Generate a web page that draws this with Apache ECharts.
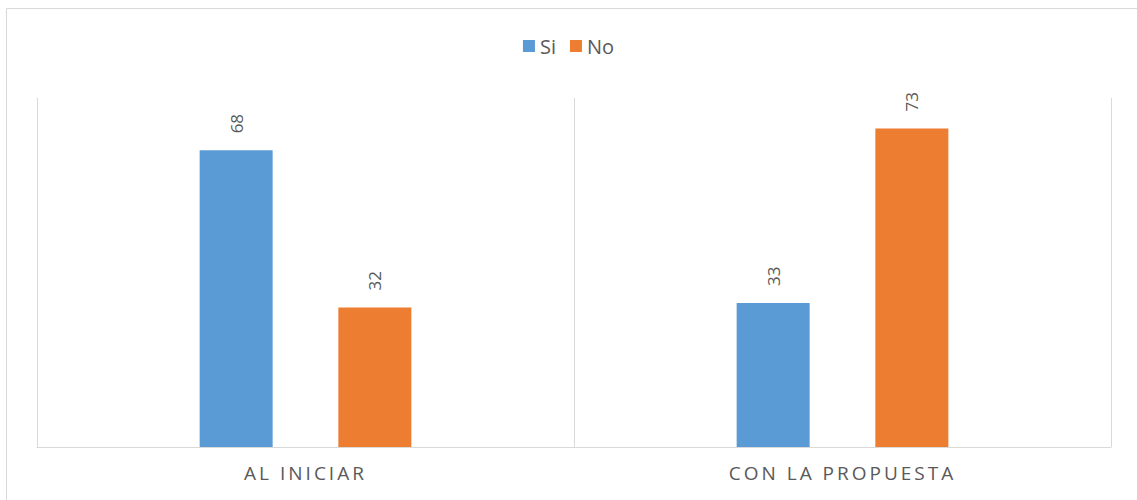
<!DOCTYPE html>
<html>
<head>
<meta charset="utf-8">
<script src="https://cdn.jsdelivr.net/npm/echarts@6/dist/echarts.min.js"></script>
<style>
  html, body { margin: 0; padding: 0; background: #fff; }
  #chart { width: 1137px; height: 500px; }
</style>
</head>
<body>
<div id="chart"></div>
<script>
// Categories and values per series
const categories = ['AL INICIAR', 'CON LA PROPUESTA'];
const siValues = [68, 33];
const noValues = [32, 73];

const chart = echarts.init(document.getElementById('chart'), null, { renderer: 'svg' });

const labelStyle = {
  show: true,
  position: 'top',
  rotate: 90,
  align: 'left',
  verticalAlign: 'middle',
  distance: 17,
  color: '#595959',
  fontSize: 17,
  fontFamily: 'Open Sans'
};

chart.setOption({
  animation: false,
  textStyle: { fontFamily: 'Open Sans' },
  graphic: [{
    type: 'rect',
    shape: { x: 6.5, y: 8.5, width: 1140, height: 520 },
    style: { fill: 'none', stroke: '#d9d9d9', lineWidth: 1 },
    silent: true
  }],
  legend: {
    top: 31,
    left: 'center',
    itemWidth: 12,
    itemHeight: 12,
    itemGap: 14,
    icon: 'rect',
    textStyle: { color: '#595959', fontSize: 20, fontFamily: 'Open Sans' },
    data: ['Si', 'No']
  },
  grid: { left: 37, right: 26, top: 98, bottom: 53 },
  xAxis: {
    type: 'category',
    data: categories,
    axisLine: { show: true, lineStyle: { color: '#d9d9d9', width: 1 } },
    axisTick: { show: false },
    splitLine: { show: true, lineStyle: { color: '#d9d9d9', width: 1 } },
    axisLabel: { color: '#595959', fontSize: 19, margin: 16, fontFamily: 'Open Sans' }
  },
  yAxis: {
    type: 'value',
    min: 0,
    max: 80,
    show: false,
    splitLine: { show: false }
  },
  series: [
    {
      name: 'Si',
      type: 'bar',
      data: siValues,
      barWidth: 73,
      barGap: '90%',
      itemStyle: { color: '#5B9BD5' },
      label: labelStyle
    },
    {
      name: 'No',
      type: 'bar',
      data: noValues,
      barWidth: 73,
      itemStyle: { color: '#ED7D31' },
      label: labelStyle
    }
  ]
});

// Spread out the letters of the category labels
function spaceCategoryLabels() {
  document.querySelectorAll('#chart text').forEach(function (t) {
    if (categories.indexOf(t.textContent) !== -1) {
      t.style.letterSpacing = '3px';
    }
  });
}
spaceCategoryLabels();
chart.on('finished', spaceCategoryLabels);
</script>
</body>
</html>
